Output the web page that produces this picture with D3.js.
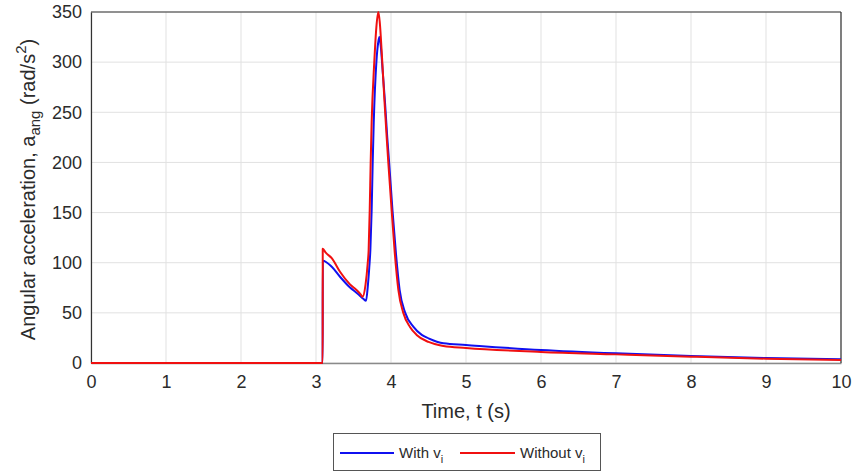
<!DOCTYPE html>
<html>
<head>
<meta charset="utf-8">
<script src="https://cdn.jsdelivr.net/npm/d3@7"></script>
<style>
  html, body { margin: 0; padding: 0; background: #fff; }
  svg text { font-family: "Liberation Sans", Arial, sans-serif; fill: #2b2b2b; }
</style>
</head>
<body>
<svg id="chart" width="852" height="475"></svg>
<script>
// Angular acceleration time histories (rad/s^2) vs time (s)
const timeWith = [0, 3.089, 3.09, 3.21, 3.32, 3.45, 3.56, 3.63, 3.667, 3.69, 3.71, 3.725, 3.742, 3.756, 3.77, 3.805, 3.83, 3.845, 3.865, 3.89, 3.92, 3.95, 3.975, 4.02, 4.065, 4.115, 4.19, 4.30, 4.41, 4.50, 4.70, 5, 6, 7, 8, 9, 10];
const accelWith = [0, 0, 102, 96, 86, 75.5, 68.8, 64, 62, 76, 95, 113, 152, 200, 240, 300, 320, 325, 315, 290, 260, 225, 200, 152, 110, 73, 50, 36, 28, 24.6, 19.6, 18, 13, 9.6, 7, 5, 3.7];

const timeWithout = [0, 3.089, 3.09, 3.13, 3.21, 3.32, 3.45, 3.54, 3.60, 3.62, 3.66, 3.69, 3.702, 3.716, 3.729, 3.742, 3.777, 3.805, 3.831, 3.85, 3.88, 3.91, 3.94, 3.964, 4.009, 4.05, 4.098, 4.164, 4.253, 4.342, 4.50, 4.70, 5, 6, 7, 8, 9, 10];
const accelWithout = [0, 0, 114, 110, 104.6, 91, 78.7, 72.8, 68, 66, 78, 100, 113, 152, 200, 240, 300, 335, 350, 340, 305, 265, 228, 200, 152, 110, 73, 50, 36, 28, 21, 17, 15, 11, 8.6, 6.3, 4.3, 3];

const xTicks = [0, 1, 2, 3, 4, 5, 6, 7, 8, 9, 10];
const yTicks = [0, 50, 100, 150, 200, 250, 300, 350];

const seriesNames = ["With v", "Without v"];
const seriesColors = ["#1010f0", "#f01010"];

const svg = d3.select("#chart");
const margin = { left: 91, right: 11, top: 12, bottom: 112 };
const W = 852, H = 475;
const pw = W - margin.left - margin.right;
const ph = H - margin.top - margin.bottom;

const x = d3.scaleLinear().domain([0, 10]).range([margin.left, margin.left + pw]);
const y = d3.scaleLinear().domain([0, 350]).range([margin.top + ph, margin.top]);

// grid
const grid = svg.append("g");
grid.selectAll("line.gx").data(xTicks).join("line")
  .attr("x1", d => x(d)).attr("x2", d => x(d))
  .attr("y1", y(0)).attr("y2", y(350))
  .attr("stroke", "#e1e1e1").attr("stroke-width", 1);
grid.selectAll("line.gy").data(yTicks).join("line")
  .attr("x1", x(0)).attr("x2", x(10))
  .attr("y1", d => y(d)).attr("y2", d => y(d))
  .attr("stroke", "#e1e1e1").attr("stroke-width", 1);

// axes
const xAxis = d3.axisBottom(x).tickValues(xTicks).tickSize(0).tickPadding(12).tickFormat(d3.format("d"));
const yAxis = d3.axisLeft(y).tickValues(yTicks).tickSize(0).tickPadding(9).tickFormat(d3.format("d"));

const gx = svg.append("g").attr("transform", `translate(0,${y(0)})`).call(xAxis);
gx.select(".domain").attr("stroke", "#8a8a8a").attr("stroke-width", 1.5);
gx.selectAll("text").attr("font-size", 18).attr("fill", "#2b2b2b");

const gy = svg.append("g").attr("transform", `translate(${x(0)},0)`).call(yAxis);
gy.select(".domain").attr("stroke", "#333").attr("stroke-width", 1.2);
gy.selectAll("text").attr("font-size", 18).attr("fill", "#2b2b2b");

// top and right frame
svg.append("line").attr("x1", x(0)).attr("x2", x(10)).attr("y1", y(350)).attr("y2", y(350))
  .attr("stroke", "#333").attr("stroke-width", 1.2);
svg.append("line").attr("x1", x(10)).attr("x2", x(10)).attr("y1", y(350)).attr("y2", y(0))
  .attr("stroke", "#333").attr("stroke-width", 1.2);

// series
const line = d3.line().x(d => x(d[0])).y(d => y(d[1])).curve(d3.curveMonotoneX);
const series = [
  d3.zip(timeWith, accelWith),
  d3.zip(timeWithout, accelWithout)
];
series.forEach((pts, i) => {
  svg.append("path").datum(pts)
    .attr("d", line)
    .attr("fill", "none")
    .attr("stroke", seriesColors[i])
    .attr("stroke-width", 2)
    .attr("stroke-linejoin", "round");
});

// axis titles
svg.append("text")
  .attr("x", x(5)).attr("y", 418)
  .attr("text-anchor", "middle").attr("font-size", 20)
  .text("Time, t (s)");

const yt = svg.append("text")
  .attr("transform", `translate(35,${(y(0) + y(350)) / 2 + 2}) rotate(-90)`)
  .attr("text-anchor", "middle").attr("font-size", 20);
yt.append("tspan").text("Angular acceleration, a");
yt.append("tspan").attr("font-size", 15).attr("dy", 5).text("ang");
yt.append("tspan").attr("dy", -5).text(" (rad/s");
yt.append("tspan").attr("font-size", 15).attr("dy", -9).text("2");
yt.append("tspan").attr("dy", 9).text(")");

// legend
const lg = svg.append("g");
lg.append("rect").attr("x", 333.5).attr("y", 433.5).attr("width", 267).attr("height", 37)
  .attr("fill", "#fff").attr("stroke", "#555").attr("stroke-width", 1);
const legendItems = [
  { x1: 340, x2: 394, tx: 399 },
  { x1: 460, x2: 515, tx: 520 }
];
legendItems.forEach((it, i) => {
  lg.append("line").attr("x1", it.x1).attr("x2", it.x2).attr("y1", 453).attr("y2", 453)
    .attr("stroke", seriesColors[i]).attr("stroke-width", 2);
  const t = lg.append("text").attr("x", it.tx).attr("y", 458).attr("font-size", 15);
  t.append("tspan").text(seriesNames[i]);
  t.append("tspan").attr("font-size", 11).attr("dy", 5).text("i");
});
</script>
</body>
</html>
